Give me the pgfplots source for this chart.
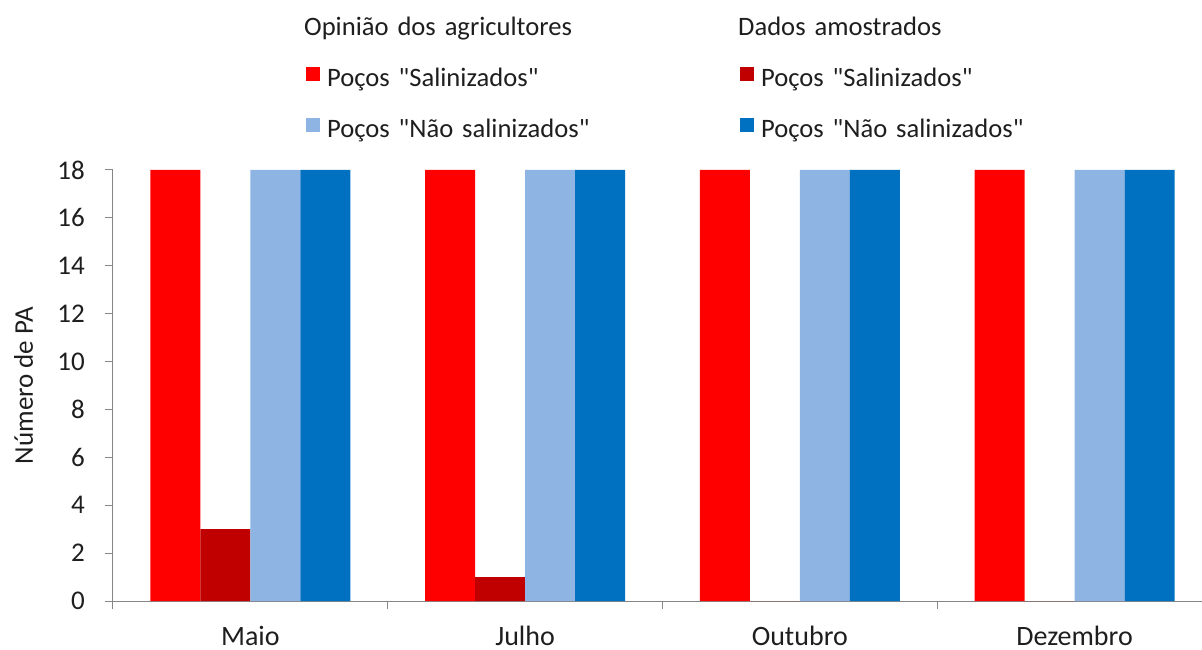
\documentclass[border=0pt]{standalone}
\usepackage{fontspec}
\setmainfont{Carlito}[Ligatures=TeXOff]
\usepackage{pgfplots}
\pgfplotsset{compat=1.18}

\definecolor{salop}{HTML}{FF0000}
\definecolor{salam}{HTML}{C00000}
\definecolor{naoop}{HTML}{8EB4E3}
\definecolor{naoam}{HTML}{0070C0}
\definecolor{eixo}{HTML}{868686}
\definecolor{texto}{HTML}{1E1E1E}

\begin{document}
\fontsize{26.6bp}{32bp}\selectfont
\begin{tikzpicture}
\begin{axis}[
  scale only axis, width=1089bp, height=431bp,
  xmin=-0.5, xmax=3.464, ymin=0, ymax=18,
  ybar=0pt, bar width=50bp,
  axis x line*=bottom, axis y line*=left,
  axis line style={-, draw=eixo, line width=1bp},
  xtick={0,1,2,3},
  xticklabels={Maio,Julho,Outubro,Dezembro},
  minor xtick={-0.5,0.5,1.5,2.5,3.5},
  ytick={0,2,...,18},
  tick align=outside,
  major tick length=8bp, minor tick length=8bp,
  major x tick style={draw=none},
  minor x tick style={draw=eixo, line width=1bp},
  ytick style={draw=eixo, line width=1bp},
  /pgf/number format/assume math mode=true,
  tick label style={font=\fontsize{27bp}{32bp}\selectfont, text=texto, inner sep=0pt},
  xticklabel style={anchor=base, font=\fontsize{28bp}{32bp}\selectfont, yshift=-36bp},
  yticklabel style={anchor=east, xshift=-20bp},
  ylabel={Número de PA},
  ylabel style={font=\fontsize{27bp}{32bp}\selectfont, text=texto, inner sep=0pt,
    at={(axis description cs:0,0.5)}, anchor=base, rotate=0, yshift=80bp},
  legend columns=2,
  legend style={draw=none, fill=none, inner sep=0pt,
    at={(axis description cs:0.1772,1.3596)}, anchor=north west,
    font=\fontsize{26.6bp}{32bp}\selectfont, text=texto,
    nodes={inner sep=0pt, text height=20bp, text depth=7bp},
    row sep=24bp,
    /tikz/every odd column/.append style={column sep=7bp},
    /tikz/every even column/.append style={text width=413bp}},
]
% cabeçalhos das duas colunas da legenda
\addlegendimage{empty legend}
\addlegendentry{\hspace*{-23bp}Opinião dos agricultores}
\addlegendimage{empty legend}
\addlegendentry{\hspace*{-23bp}Dados amostrados}

% opinião dos agricultores: poços salinizados
\addplot[fill=salop, draw=none,
  legend image code/.code={\fill[salop] (0bp,-1bp) rectangle (14bp,13bp);}]
  coordinates {(0,18) (1,18) (2,18) (3,18)};
\addlegendentry{Poços "Salinizados"}
% dados amostrados: poços salinizados
\addplot[fill=salam, draw=none,
  legend image code/.code={\fill[salam] (0bp,-1bp) rectangle (14bp,13bp);}]
  coordinates {(0,3) (1,1) (2,0) (3,0)};
\addlegendentry{Poços "Salinizados"}
% opinião dos agricultores: poços não salinizados
\addplot[fill=naoop, draw=none,
  legend image code/.code={\fill[naoop] (0bp,-1bp) rectangle (14bp,13bp);}]
  coordinates {(0,18) (1,18) (2,18) (3,18)};
\addlegendentry{Poços "Não salinizados"}
% dados amostrados: poços não salinizados
\addplot[fill=naoam, draw=none,
  legend image code/.code={\fill[naoam] (0bp,-1bp) rectangle (14bp,13bp);}]
  coordinates {(0,18) (1,18) (2,18) (3,18)};
\addlegendentry{Poços "Não salinizados"}
\end{axis}
\pgfresetboundingbox
\path ([shift={(-113bp,-49bp)}]current axis.south west) rectangle ++(1202bp,650bp);
\end{tikzpicture}
\end{document}
